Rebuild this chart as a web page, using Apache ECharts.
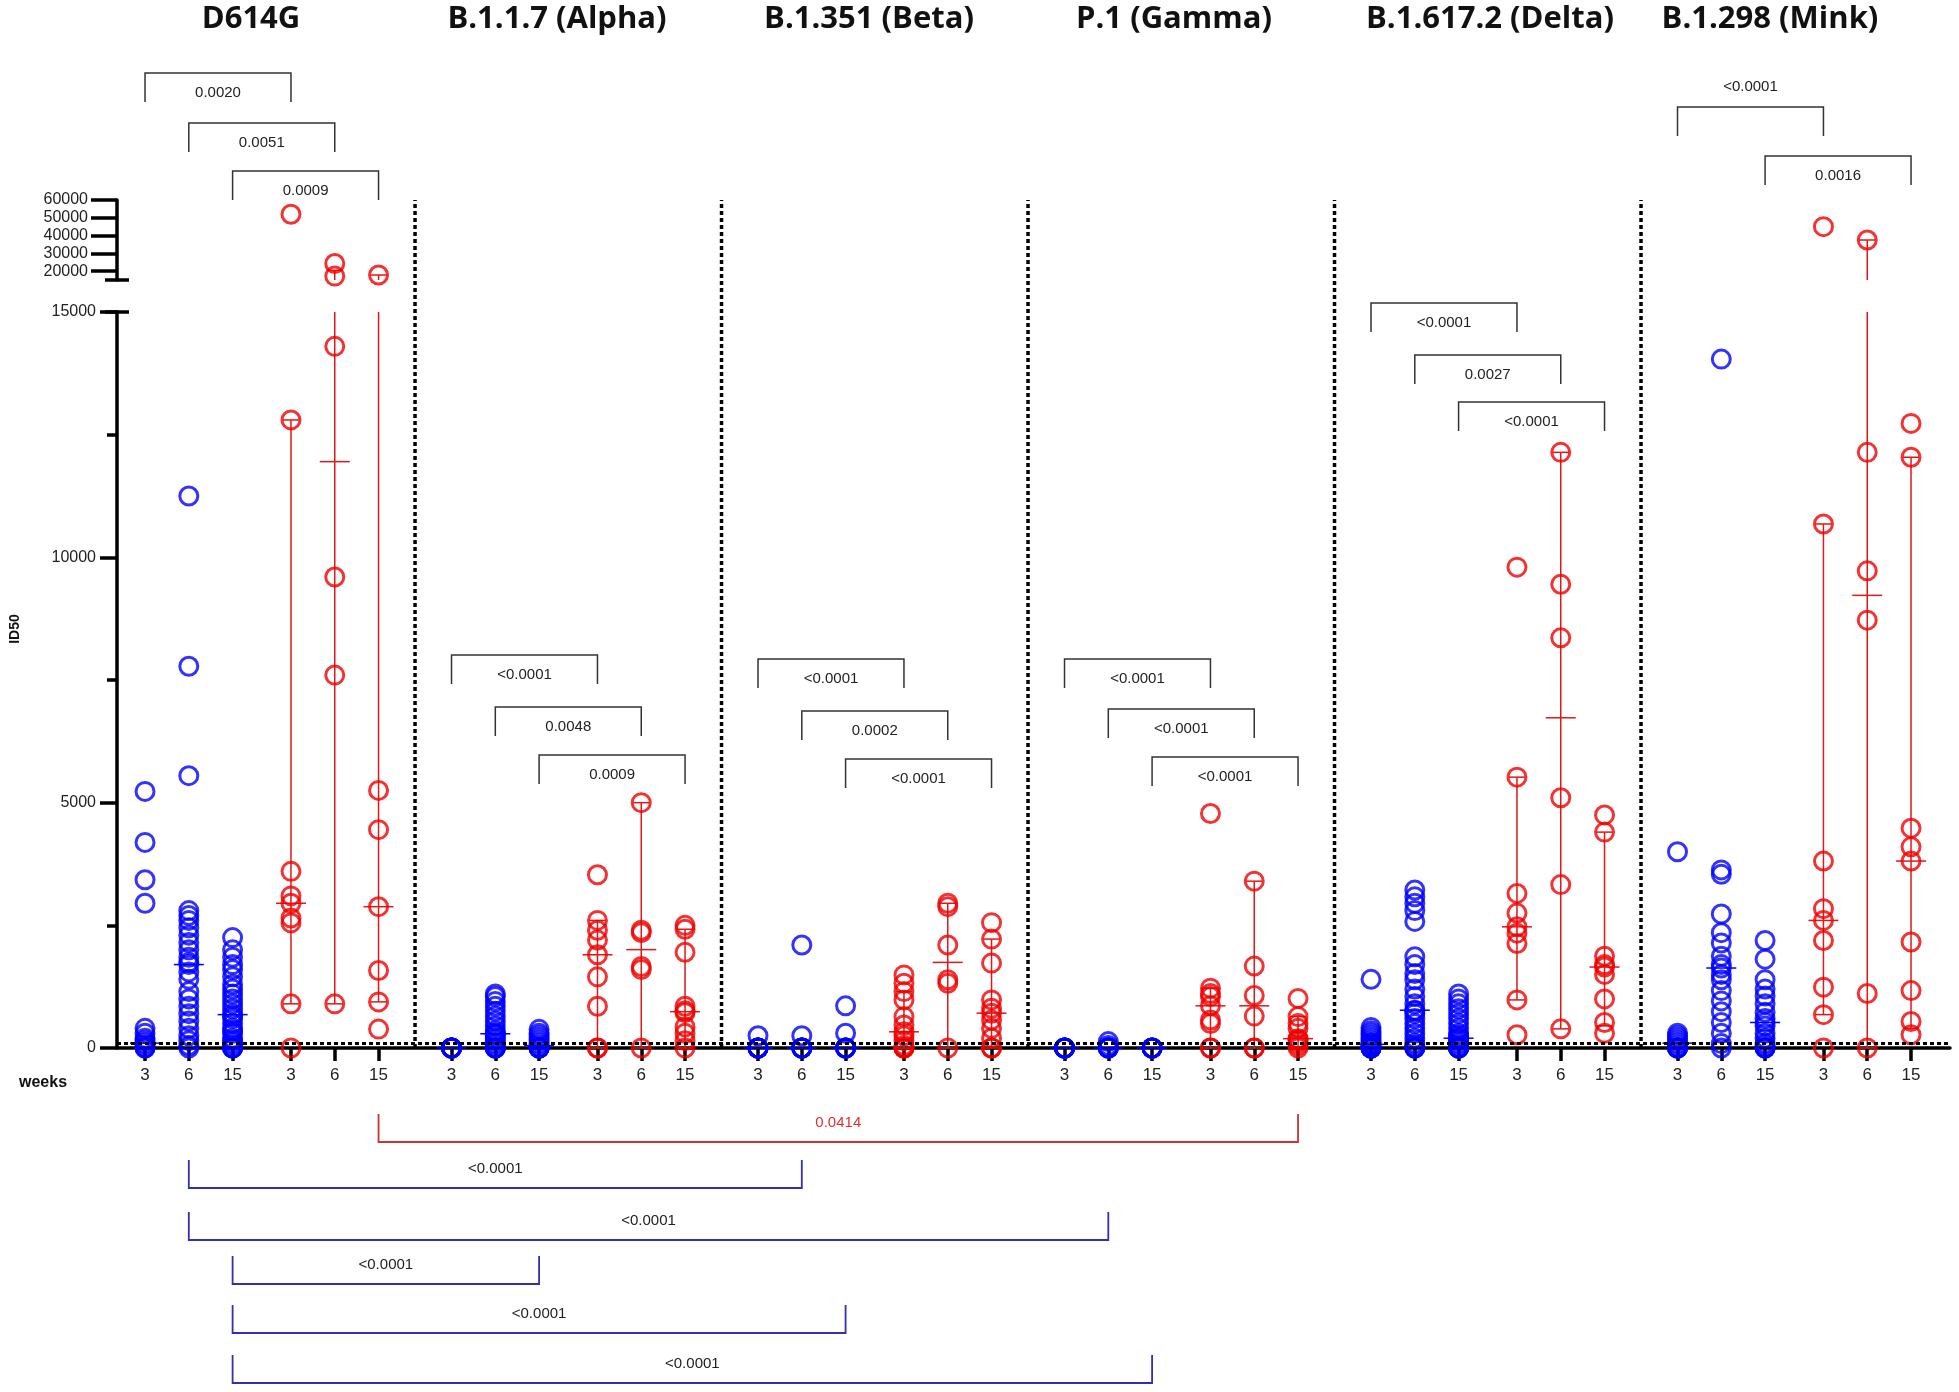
<!DOCTYPE html>
<html><head><meta charset="utf-8">
<script src="https://cdn.jsdelivr.net/npm/echarts@6/dist/echarts.min.js"></script>
<style>html,body{margin:0;padding:0;background:#fff}#c{width:1959px;height:1392px}</style>
</head><body><div id="c"></div>
<script>
// ---------------- DATA ----------------
const variants = ['D614G', 'B.1.1.7 (Alpha)', 'B.1.351 (Beta)', 'P.1 (Gamma)', 'B.1.617.2 (Delta)', 'B.1.298 (Mink)'];
const weekLabels = ['3', '6', '15'];
const xAxisTitle = 'weeks';
const yAxisTitle = 'ID50';
const lowerTicks = [0, 5000, 10000, 15000];
const upperTicks = [20000, 30000, 40000, 50000, 60000];

// blue cohort ID50 per variant: [week3, week6, week15]
const d614gBlue = [
  [5230, 4190, 3430, 2950, 400, 300, 200, 150, 100, 50, 0, 0],
  [11250, 7780, 5550, 2800, 2700, 2600, 2450, 2300, 2150, 2000, 1850, 1750, 1700, 1550, 1400, 1150, 1000, 850, 700, 550, 400, 250, 150, 50, 0],
  [2250, 2000, 1850, 1700, 1600, 1450, 1300, 1200, 1100, 1000, 900, 800, 700, 650, 600, 500, 400, 350, 300, 200, 150, 100, 50, 0, 0, 0]
];
const alphaBlue = [
  [0, 0, 0, 0, 0, 0, 0, 0],
  [1100, 1050, 950, 850, 750, 650, 550, 450, 350, 300, 280, 250, 200, 150, 100, 50, 0, 0, 0, 0],
  [380, 300, 250, 200, 150, 100, 50, 0, 0, 0, 0, 0]
];
const betaBlue = [
  [250, 0, 0, 0, 0, 0, 0, 0],
  [2100, 250, 0, 0, 0, 0, 0, 0],
  [860, 300, 0, 0, 0, 0, 0]
];
const gammaBlue = [
  [0, 0, 0, 0, 0, 0, 0],
  [130, 50, 0, 0, 0, 0],
  [0, 0, 0, 0, 0, 0]
];
const deltaBlue = [
  [1400, 420, 350, 300, 250, 200, 150, 100, 100, 50, 50, 0, 0, 0, 0, 0],
  [3220, 3080, 2950, 2800, 2580, 1860, 1700, 1520, 1390, 1200, 1050, 900, 770, 760, 700, 600, 500, 400, 300, 200, 100, 50, 0, 0, 0],
  [1100, 1000, 900, 800, 700, 600, 500, 400, 300, 250, 200, 200, 150, 100, 50, 0, 0, 0, 0, 0]
];
const minkBlue = [
  [4000, 300, 250, 200, 150, 100, 50, 0, 0, 0, 0],
  [14040, 3630, 3540, 2730, 2350, 2140, 1870, 1700, 1630, 1500, 1390, 1170, 960, 740, 520, 300, 90, 0],
  [2190, 1810, 1390, 1200, 1060, 900, 730, 600, 520, 450, 300, 200, 100, 50, 0, 0, 0]
];

// red cohort ID50 per variant: [week3, week6, week15]
const d614gRed = [
  [52000, 12800, 3600, 3100, 2950, 2650, 2550, 900, 0],
  [24300, 17200, 14300, 9600, 7600, 900],
  [17800, 5250, 4450, 2880, 1580, 940, 385]
];
const alphaRed = [
  [3530, 2600, 2400, 2200, 1900, 1450, 850, 0, 0],
  [5000, 2400, 2350, 1660, 1600, 0],
  [2500, 2420, 1950, 850, 760, 720, 430, 300, 150, 0]
];
const betaRed = [
  [1490, 1320, 1150, 980, 640, 470, 330, 250, 150, 50, 0, 0, 0],
  [2950, 2880, 2100, 1390, 1320, 0],
  [2555, 2220, 1730, 980, 810, 710, 570, 400, 200, 0, 0]
];
const gammaRed = [
  [4780, 1220, 1110, 1050, 860, 570, 500, 0, 0],
  [3400, 1670, 1070, 650, 0, 0],
  [1010, 640, 500, 400, 190, 170, 120, 60, 0]
];
const deltaRed = [
  [9800, 5520, 3150, 2750, 2470, 2340, 2130, 980, 270],
  [12140, 9450, 8360, 5100, 3330, 390],
  [4750, 4400, 1870, 1700, 1650, 1500, 1000, 520, 300]
];
const minkRed = [
  [45000, 10680, 3810, 2840, 2600, 2190, 1240, 680, 0],
  [37500, 12140, 9725, 8720, 1110, 0],
  [12730, 12040, 4480, 4100, 3810, 2160, 1170, 540, 270]
];

const blueCohort = [d614gBlue, alphaBlue, betaBlue, gammaBlue, deltaBlue, minkBlue];
const redCohort = [d614gRed, alphaRed, betaRed, gammaRed, deltaRed, minkRed];

// medians per variant [w3, w6, w15]
const blueMedians = [[100, 1700, 680], [0, 290, 50], [0, 0, 0], [0, 0, 0], [75, 770, 200], [100, 1630, 520]];
const redMedians = [[2950, 11950, 2880], [1900, 2005, 740], [330, 1745, 710], [860, 860, 190], [2470, 6730, 1650], [2600, 9225, 3810]];
// 95% CI of median (red cohort)
const redCILow = [[900, 900, 940], [0, 0, 0], [0, 0, 0], [0, 0, 0], [980, 390, 450], [680, 0, 400]];
const redCIHigh = [[12800, 20500, 17800], [2600, 5000, 2420], [1150, 2950, 2220], [1220, 3400, 640], [5520, 12140, 4400], [10680, 37500, 12040]];

// within-variant comparisons (blue week t vs red week t)
const topBracketVariant = [0, 0, 0, 1, 1, 1, 2, 2, 2, 3, 3, 3, 4, 4, 4, 5, 5];
const topBracketWeek = [0, 1, 2, 0, 1, 2, 0, 1, 2, 0, 1, 2, 0, 1, 2, 0, 2];
const topBracketP = ['0.0020', '0.0051', '0.0009', '<0.0001', '0.0048', '0.0009', '<0.0001', '0.0002', '<0.0001',
  '<0.0001', '<0.0001', '<0.0001', '<0.0001', '0.0027', '<0.0001', '<0.0001', '0.0016'];

// cross-variant comparisons vs D614G (cohort 0 = blue, 1 = red)
const crossCohort = [1, 0, 0, 0, 0, 0];
const crossWeek = [2, 1, 1, 2, 2, 2];
const crossVariant = [3, 2, 3, 1, 2, 3];
const crossP = ['0.0414', '<0.0001', '<0.0001', '<0.0001', '<0.0001', '<0.0001'];

const detectionLimit = 100;

// ---------------- LAYOUT ----------------
const FONT = "'Liberation Sans', Arial, sans-serif";
const BLUE = '#0000ff', RED = '#f00000', RED_LINE = '#e01818';
const GROUP_STEP = 21, COHORT_STEP = 10, WEEK_STEP = 3;
const X_MIN = -1.92, X_MAX = 123.67;
const BREAK = 15000, UPPER_MAX = 60000;
const GRID_LEFT = 117, GRID_RIGHT = 9;
const topBracketY = [73, 123, 171, 655, 707, 755, 659, 711, 759, 659, 709, 757, 303, 355, 402, 107, 156];
const topBracketLabelAbove = topBracketP.map((p, i) => i === 15);
const crossLineY = [1142, 1188, 1240, 1284, 1333, 1383];
const titleX = [251, 557, 869, 1174, 1490, 1770];

function pos(g, cohort, t) { return g * GROUP_STEP + cohort * COHORT_STEP + t * WEEK_STEP; }

const tickPositions = [], tickText = {};
variants.forEach((v, g) => [0, 1].forEach(c => weekLabels.forEach((w, t) => {
  const p = pos(g, c, t); tickPositions.push(p); tickText[p] = w;
})));

function points(cohortArr, c, upper) {
  const out = [];
  cohortArr.forEach((vv, g) => vv.forEach((vals, t) => vals.forEach(v => {
    if ((v > BREAK) === upper) out.push([pos(g, c, t), v]);
  })));
  return out;
}

const statsData = [];
variants.forEach((v, g) => weekLabels.forEach((w, t) => {
  statsData.push([pos(g, 0, t), blueMedians[g][t], blueMedians[g][t], blueMedians[g][t], 0]);
  statsData.push([pos(g, 1, t), redMedians[g][t], redCILow[g][t], redCIHigh[g][t], 1]);
}));
const upperStats = [];
variants.forEach((v, g) => weekLabels.forEach((w, t) => {
  if (redCIHigh[g][t] > BREAK) upperStats.push([pos(g, 1, t), redCIHigh[g][t]]);
}));

// separators midway between last column of a group and first column of the next
const separators = variants.slice(1).map((v, g) => [(pos(g, 1, 2) + pos(g + 1, 0, 0)) / 2, 0]);

const topData = topBracketVariant.map((g, i) => [pos(g, 0, topBracketWeek[i]), pos(g, 1, topBracketWeek[i]), 0]);
const crossData = crossCohort.map((c, i) => [pos(0, c, crossWeek[i]), pos(crossVariant[i], c, crossWeek[i]), 0]);

const scatterStyle = (color) => ({
  symbol: 'circle', symbolSize: 18,
  itemStyle: { color: 'transparent', borderColor: color, borderWidth: 3 }
});

function hLine(x1, x2, y, stroke, w) {
  return { type: 'line', shape: { x1, y1: y, x2, y2: y }, style: { stroke, lineWidth: w } };
}

const chart = echarts.init(document.getElementById('c'), null, { renderer: 'canvas' });

const option = {
  animation: false,
  backgroundColor: '#fff',
  grid: [
    { left: GRID_LEFT, right: GRID_RIGHT, top: 200, height: 80 },
    { left: GRID_LEFT, right: GRID_RIGHT, top: 312, height: 736 },
    { left: GRID_LEFT, right: GRID_RIGHT, top: 200, height: 848 }
  ],
  xAxis: [
    { gridIndex: 0, type: 'value', min: X_MIN, max: X_MAX, show: false },
    {
      gridIndex: 1, type: 'value', min: X_MIN, max: X_MAX,
      axisLine: { onZero: false, lineStyle: { color: '#000', width: 3.5 } },
      axisTick: { customValues: tickPositions, length: 13, lineStyle: { color: '#000', width: 3.5 } },
      axisLabel: { customValues: tickPositions, formatter: v => tickText[v] || '', margin: 19, fontSize: 17, fontFamily: FONT, color: '#222' },
      splitLine: { show: false }
    },
    { gridIndex: 2, type: 'value', min: X_MIN, max: X_MAX, show: false }
  ],
  yAxis: [
    {
      gridIndex: 0, type: 'value', min: BREAK, max: UPPER_MAX,
      axisLine: { show: true, onZero: false, lineStyle: { color: '#000', width: 3.5 } },
      axisTick: { show: true, customValues: upperTicks, length: 26, lineStyle: { color: '#000', width: 3.5 } },
      axisLabel: { customValues: upperTicks, formatter: v => String(v), margin: 29, fontSize: 16, fontFamily: FONT, color: '#222' },
      splitLine: { show: false }
    },
    {
      gridIndex: 1, type: 'value', min: 0, max: BREAK, interval: 5000,
      axisLine: { show: true, onZero: false, lineStyle: { color: '#000', width: 3.5 } },
      axisTick: { show: true, length: 17, lineStyle: { color: '#000', width: 3.5 } },
      minorTick: { show: true, splitNumber: 2, length: 10, lineStyle: { color: '#000', width: 3.5 } },
      axisLabel: { formatter: v => String(v), margin: 21, fontSize: 16, fontFamily: FONT, color: '#222' },
      splitLine: { show: false }, minorSplitLine: { show: false }
    },
    { gridIndex: 2, type: 'value', min: 0, max: 1, show: false }
  ],
  graphic: [
    ...variants.map((v, g) => ({
      type: 'text', x: titleX[g], y: 19,
      style: { text: v, font: `bold 31px 'Open Sans', Lato, sans-serif`, fill: '#111', align: 'center', verticalAlign: 'middle', textAlign: 'center', textVerticalAlign: 'middle' }
    })),
    { type: 'text', x: 19, y: 1083, style: { text: xAxisTitle, font: `bold 16px ${FONT}`, fill: '#111', align: 'left', verticalAlign: 'middle', textAlign: 'left', textVerticalAlign: 'middle' } },
    { type: 'text', x: 15, y: 629, rotation: Math.PI / 2, style: { text: yAxisTitle, font: `bold 14px ${FONT}`, fill: '#111', align: 'center', verticalAlign: 'middle', textAlign: 'center', textVerticalAlign: 'middle' } }
  ],
  series: [
    // separators (overlay grid)
    {
      type: 'custom', xAxisIndex: 2, yAxisIndex: 2, data: separators, silent: true, z: 1,
      encode: { x: 0, y: 1 },
      renderItem: (params, api) => {
        const a = api.coord([api.value(0), 0]), b = api.coord([api.value(0), 1]);
        return { type: 'line', shape: { x1: a[0], y1: a[1], x2: b[0], y2: b[1] }, style: { stroke: '#000', lineWidth: 3.5, lineDash: [4, 3] } };
      }
    },
    // axis break caps
    {
      type: 'custom', xAxisIndex: 0, yAxisIndex: 0, data: [[X_MIN, BREAK]], silent: true, clip: false,
      encode: { x: 0, y: 1 },
      renderItem: (params, api) => { const p = api.coord([api.value(0), api.value(1)]); return hLine(p[0] - 12, p[0] + 12, p[1], '#000', 3.5); }
    },
    {
      type: 'custom', xAxisIndex: 1, yAxisIndex: 1, data: [[X_MIN, BREAK]], silent: true, clip: false,
      encode: { x: 0, y: 1 },
      renderItem: (params, api) => { const p = api.coord([api.value(0), api.value(1)]); return hLine(p[0] - 12, p[0] + 12, p[1], '#000', 3.5); }
    },
    // lower scatter
    {
      type: 'scatter', xAxisIndex: 1, yAxisIndex: 1, data: points(blueCohort, 0, false), z: 4, ...scatterStyle(BLUE),
      markLine: {
        silent: true, symbol: ['none', 'none'], label: { show: false },
        lineStyle: { color: '#000', width: 3, type: [4, 3] },
        data: [{ yAxis: detectionLimit }]
      }
    },
    { type: 'scatter', xAxisIndex: 1, yAxisIndex: 1, data: points(redCohort, 1, false), z: 4, ...scatterStyle(RED) },
    // upper scatter
    { type: 'scatter', xAxisIndex: 0, yAxisIndex: 0, data: points(blueCohort, 0, true), z: 4, ...scatterStyle(BLUE) },
    { type: 'scatter', xAxisIndex: 0, yAxisIndex: 0, data: points(redCohort, 1, true), z: 4, ...scatterStyle(RED) },
    // medians + CI (lower)
    {
      type: 'custom', xAxisIndex: 1, yAxisIndex: 1, data: statsData, silent: true, z: 3, clip: false,
      encode: { x: 0, y: 1 },
      renderItem: (params, api) => {
        const x = api.value(0), med = api.value(1), lo = api.value(2), hi = api.value(3), c = api.value(4);
        const col = c ? RED_LINE : BLUE;
        const ch = [];
        const pm = api.coord([x, med]);
        ch.push(hLine(pm[0] - 15, pm[0] + 15, pm[1], col, 1.5));
        if (hi > lo) {
          const a = api.coord([x, lo]), b = api.coord([x, Math.min(hi, BREAK)]);
          ch.push({ type: 'line', shape: { x1: a[0], y1: a[1], x2: b[0], y2: b[1] }, style: { stroke: col, lineWidth: 1.5 } });
          ch.push(hLine(a[0] - 8, a[0] + 8, a[1], col, 1.5));
          if (hi <= BREAK) ch.push(hLine(b[0] - 8, b[0] + 8, b[1], col, 1.5));
        }
        return { type: 'group', children: ch };
      }
    },
    // CI continuation (upper)
    {
      type: 'custom', xAxisIndex: 0, yAxisIndex: 0, data: upperStats, silent: true, z: 3,
      encode: { x: 0, y: 1 },
      renderItem: (params, api) => {
        const x = api.value(0), hi = api.value(1);
        const a = api.coord([x, BREAK]), b = api.coord([x, hi]);
        return { type: 'group', children: [
          { type: 'line', shape: { x1: a[0], y1: a[1], x2: b[0], y2: b[1] }, style: { stroke: RED_LINE, lineWidth: 1.5 } },
          hLine(b[0] - 8, b[0] + 8, b[1], RED_LINE, 1.5)
        ] };
      }
    },
    // within-variant brackets
    {
      type: 'custom', xAxisIndex: 1, yAxisIndex: 1, data: topData, silent: true, clip: false,
      encode: { x: [0, 1], y: 2 },
      renderItem: (params, api) => {
        const i = params.dataIndex;
        const xa = api.coord([api.value(0), 0])[0], xb = api.coord([api.value(1), 0])[0];
        const y = topBracketY[i];
        const ly = topBracketLabelAbove[i] ? y - 20 : y + 20;
        return { type: 'group', children: [
          { type: 'polyline', shape: { points: [[xa, y + 29], [xa, y], [xb, y], [xb, y + 29]] }, style: { stroke: '#333', lineWidth: 1.5, fill: 'none' } },
          { type: 'text', style: { text: topBracketP[i], x: (xa + xb) / 2, y: ly, font: `15px ${FONT}`, fill: '#222', align: 'center', verticalAlign: 'middle', textAlign: 'center', textVerticalAlign: 'middle' } }
        ] };
      }
    },
    // cross-variant brackets
    {
      type: 'custom', xAxisIndex: 1, yAxisIndex: 1, data: crossData, silent: true, clip: false,
      encode: { x: [0, 1], y: 2 },
      renderItem: (params, api) => {
        const i = params.dataIndex;
        const xa = api.coord([api.value(0), 0])[0], xb = api.coord([api.value(1), 0])[0];
        const y = crossLineY[i];
        const red = crossCohort[i] === 1;
        const col = red ? '#cc3333' : '#3030b0';
        return { type: 'group', children: [
          { type: 'polyline', shape: { points: [[xa, y - 28], [xa, y], [xb, y], [xb, y - 28]] }, style: { stroke: col, lineWidth: 1.8, fill: 'none' } },
          { type: 'text', style: { text: crossP[i], x: (xa + xb) / 2, y: y - 19, font: `15px ${FONT}`, fill: red ? '#e03030' : '#222', align: 'center', verticalAlign: 'middle', textAlign: 'center', textVerticalAlign: 'middle' } }
        ] };
      }
    }
  ]
};
chart.setOption(option);
</script></body></html>
